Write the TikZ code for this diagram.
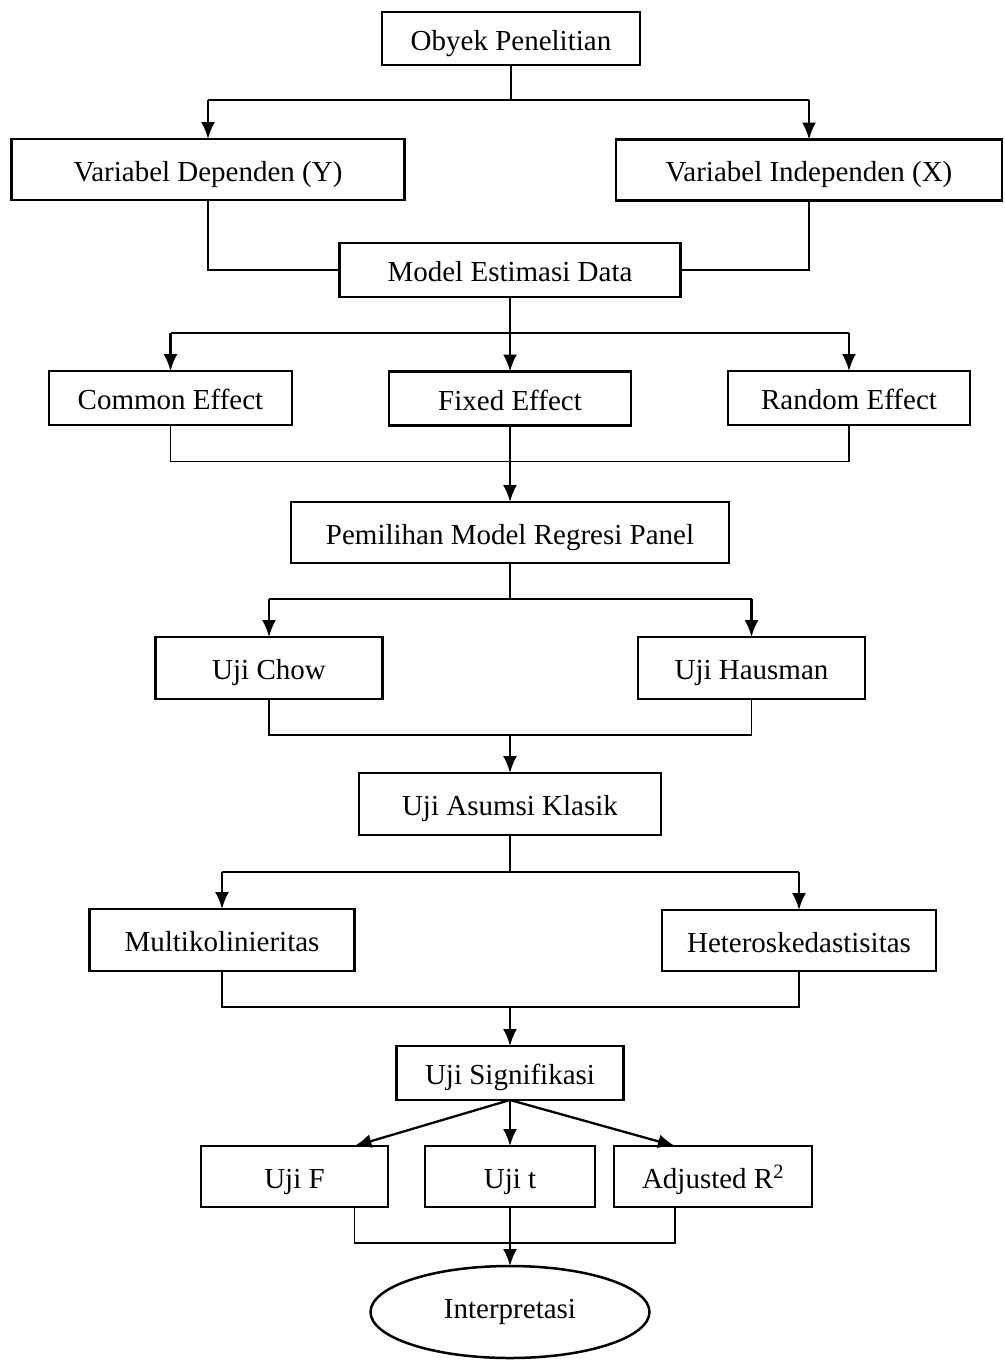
\documentclass[tikz,border=0pt]{standalone}
\usepackage{fontspec}
\setmainfont{Liberation Serif}
\usetikzlibrary{arrows.meta,positioning,shapes.geometric}

\begin{document}
\begin{tikzpicture}[
    x=1pt, y=-1pt,
    font=\fontsize{29}{34}\selectfont,
    box/.style={draw, line width=2.5pt, minimum height=54pt, inner sep=0pt, outer sep=0pt, align=center, text height=23pt, text depth=0pt},
    tall/.style={box, minimum height=61pt},
    oval/.style={draw, ellipse, line width=2.5pt, inner sep=0pt, outer sep=0pt},
    arrow/.style={-{Latex[length=17pt, width=14pt]}, line width=2.3pt},
    link/.style={line width=1.1pt}
  ]
    \useasboundingbox (0,0) rectangle (1004,1360);
    \node[box, minimum width=258pt, minimum height=53pt] (obyek) at (511,38.5) {Obyek Penelitian};
    \node[tall, minimum width=393pt] (dep) at (208,169.5) {Variabel Dependen (Y)};
    \node[tall, minimum width=386pt] (indep) at (809,170) {Variabel Independen (X)};
    \node[box, minimum width=341pt] (model) at (510,270) {Model Estimasi Data};
    \node[box, minimum width=243pt] (common) at (170.5,398) {Common Effect};
    \node[box, minimum width=242pt] (fixed) at (510,398.5) {Fixed Effect};
    \node[box, minimum width=242pt] (random) at (849,398) {Random Effect};
    \node[tall, minimum width=438pt] (pilih) at (510,532.5) {Pemilihan Model Regresi Panel};
    \node[box, minimum width=227pt, minimum height=62pt] (chow) at (269,668) {Uji Chow};
    \node[box, minimum width=227pt, minimum height=62pt] (hausman) at (751.5,668) {Uji Hausman};
    \node[box, minimum width=302pt, minimum height=62pt] (asumsi) at (510,804) {Uji Asumsi Klasik};
    \node[box, minimum width=265pt, minimum height=62pt] (multi) at (222,940) {Multikolinieritas};
    \node[tall, minimum width=274pt] (hetero) at (799,940.5) {Heteroskedastisitas};
    \node[box, minimum width=227pt] (signif) at (510,1073) {Uji Signifikasi};
    \node[tall, minimum width=187pt] (ujif) at (294.5,1176.5) {Uji F};
    \node[tall, minimum width=170pt] (ujit) at (510,1176.5) {Uji t};
    \node[tall, minimum width=198pt] (adjr) at (713,1176.5) {Adjusted R\textsuperscript{2}};
    \node[oval, minimum width=279pt, minimum height=92pt] (interp) at (510,1312) {Interpretasi};

    \draw[link] (obyek.south) -- ++(0,35) coordinate (s1);
    \draw[link] (dep.north |- s1) -- (indep.north |- s1);
    \draw[arrow] (dep.north |- s1) -- (dep.north);
    \draw[arrow] (indep.north |- s1) -- (indep.north);
    \draw[link] (dep.south) |- (model.west);
    \draw[link] (indep.south) |- (model.east);

    \path (model.south) ++(0,36) coordinate (s2);
    \draw[link] (common.north |- s2) -- (random.north |- s2);
    \draw[arrow] (model.south) -- (fixed.north);
    \draw[arrow] (common.north |- s2) -- (common.north);
    \draw[arrow] (random.north |- s2) -- (random.north);
    \path (fixed.south) ++(0,36) coordinate (m1);
    \draw[link] (common.south) |- (m1) -| (random.south);
    \draw[arrow] (fixed.south) -- (pilih.north);

    \draw[link] (pilih.south) -- ++(0,36) coordinate (s3);
    \draw[link] (chow.north |- s3) -- (hausman.north |- s3);
    \draw[arrow] (chow.north |- s3) -- (chow.north);
    \draw[arrow] (hausman.north |- s3) -- (hausman.north);
    \path (chow.south -| asumsi.north) ++(0,36) coordinate (m2);
    \draw[link] (chow.south) |- (m2) -| (hausman.south);
    \draw[arrow] (m2) -- (asumsi.north);

    \draw[link] (asumsi.south) -- ++(0,37) coordinate (s4);
    \draw[link] (multi.north |- s4) -- (hetero.north |- s4);
    \draw[arrow] (multi.north |- s4) -- (multi.north);
    \draw[arrow] (hetero.north |- s4) -- (hetero.north);
    \path (multi.south -| signif.north) ++(0,36) coordinate (m3);
    \draw[link] (multi.south) |- (m3) -| (hetero.south);
    \draw[arrow] (m3) -- (signif.north);

    \draw[arrow] (signif.south) -- ([xshift=60pt]ujif.north);
    \draw[arrow] (signif.south) -- (ujit.north);
    \draw[arrow] (signif.south) -- ([xshift=-38pt]adjr.north);
    \path (ujit.south) ++(0,36) coordinate (m4);
    \draw[link] ([xshift=60pt]ujif.south) |- (m4) -| ([xshift=-38pt]adjr.south);
    \draw[arrow] (ujit.south) -- (interp.north);
  \end{tikzpicture}
\end{document}
